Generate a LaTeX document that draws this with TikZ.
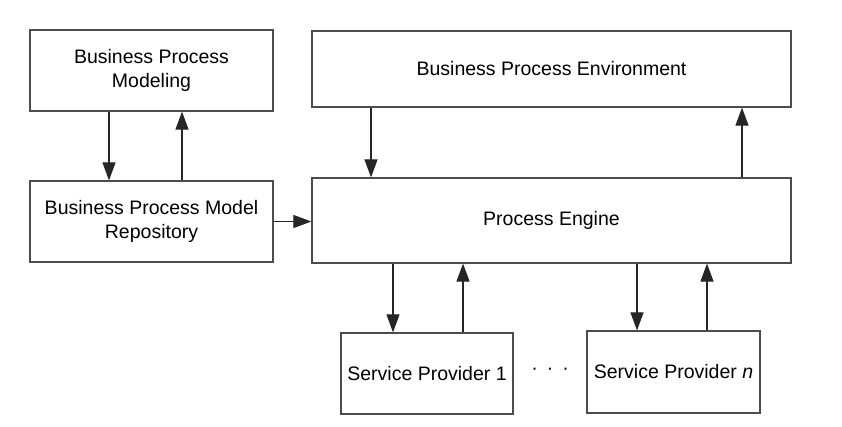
\documentclass[tikz,border=0pt]{standalone}
\usepackage{fontspec}
\setmainfont{Liberation Sans}
\usetikzlibrary{arrows.meta}

\begin{document}
\begin{tikzpicture}[x=1pt,y=-1pt]
\tikzset{box/.style={draw=black!70,line width=1.2pt,inner sep=0pt,align=center,font=\fontsize{19.5}{24}\selectfont},
arr/.style={draw=black!85,line width=1.1pt,-{Triangle[length=18pt,width=13pt]}}}
\useasboundingbox (0,0) rectangle (842,427);
\node [box,minimum width=243,minimum height=81] (bpm) at (151.5,70.5) {Business Process\\Modeling};
\node [box,minimum width=243,minimum height=81] (repo) at (151.5,221.5) {Business Process Model\\Repository};
\node [box,minimum width=479,minimum height=76] (env) at (551.5,69) {Business Process Environment};
\node [box,minimum width=479,minimum height=85] (eng) at (551.5,220.5) {Process Engine};
\node [box,minimum width=172,minimum height=81] (sp1) at (427,373.5) {Service Provider 1};
\node [box,minimum width=173,minimum height=82] (spn) at (673.5,372) {Service Provider \textit{n}};
\node [font=\fontsize{19.5}{24}\selectfont] (dots) at (550,371) {·\hspace{9pt}·\hspace{9pt}·};
\draw [arr] ([xshift=-42.5pt]bpm.south) -- ([xshift=-42.5pt]repo.north);
\draw [arr] ([xshift=30.5pt]repo.north) -- ([xshift=30.5pt]bpm.south);
\draw [arr] (repo.east) -- (eng.west |- repo.east);
\draw [arr] ([xshift=-180.5pt]env.south) -- ([xshift=-180.5pt]eng.north);
\draw [arr] ([xshift=190.5pt]eng.north) -- ([xshift=190.5pt]env.south);
\draw [arr] ([xshift=-34pt]sp1.north |- eng.south) -- ([xshift=-34pt]sp1.north);
\draw [arr] ([xshift=36pt]sp1.north) -- ([xshift=36pt]sp1.north |- eng.south);
\draw [arr] ([xshift=-36.5pt]spn.north |- eng.south) -- ([xshift=-36.5pt]spn.north);
\draw [arr] ([xshift=33.5pt]spn.north) -- ([xshift=33.5pt]spn.north |- eng.south);
\end{tikzpicture}
\end{document}
